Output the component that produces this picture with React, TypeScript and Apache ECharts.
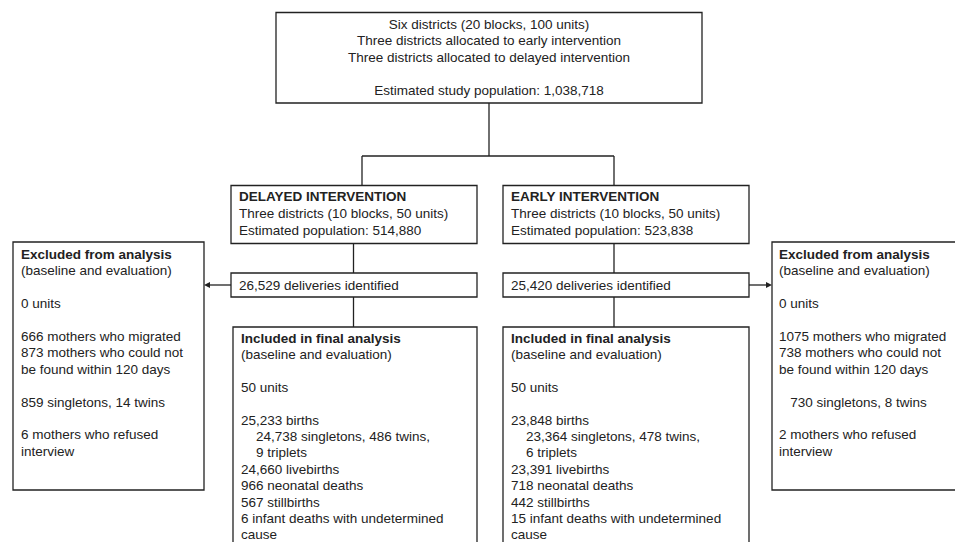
import React, { useEffect, useRef } from "react";
import * as echarts from "echarts";

// ---- content (text lines of the flow diagram) ----
const TOP_LINES = [
  "Six districts (20 blocks, 100 units)",
  "Three districts allocated to early intervention",
  "Three districts allocated to delayed intervention",
  "",
  "Estimated study population: 1,038,718",
];

const DELAYED_TITLE = "DELAYED INTERVENTION";
const DELAYED_LINES = ["Three districts (10 blocks, 50 units)", "Estimated population: 514,880"];
const EARLY_TITLE = "EARLY INTERVENTION";
const EARLY_LINES = ["Three districts (10 blocks, 50 units)", "Estimated population: 523,838"];

const DELAYED_DELIVERIES = "26,529 deliveries identified";
const EARLY_DELIVERIES = "25,420 deliveries identified";

const EXCLUDED_TITLE = "Excluded from analysis";
const EXCL_DELAYED = [
  "(baseline and evaluation)", "", "0 units", "",
  "666 mothers who migrated", "873 mothers who could not", "be found within 120 days", "",
  "859 singletons, 14 twins", "",
  "6 mothers who refused", "interview",
];
const EXCL_EARLY = [
  "(baseline and evaluation)", "", "0 units", "",
  "1075 mothers who migrated", "738 mothers who could not", "be found within 120 days", "",
  "   730 singletons, 8 twins", "",
  "2 mothers who refused", "interview",
];

const INCLUDED_TITLE = "Included in final analysis";
const INCL_DELAYED = [
  "(baseline and evaluation)", "", "50 units", "",
  "25,233 births", "    24,738 singletons, 486 twins,", "    9 triplets",
  "24,660 livebirths", "966 neonatal deaths", "567 stillbirths",
  "6 infant deaths with undetermined", "cause",
];
const INCL_EARLY = [
  "(baseline and evaluation)", "", "50 units", "",
  "23,848 births", "    23,364 singletons, 478 twins,", "    6 triplets",
  "23,391 livebirths", "718 neonatal deaths", "442 stillbirths",
  "15 infant deaths with undetermined", "cause",
];

// ---- styling ----
const FONT_FAMILY = '"Liberation Sans", Arial, Helvetica, sans-serif';
const FONT_SIZE = 13.5;
const INK = "#222";
const LW = 1.3;
const SPACE_W = 3.75;

function textLines(lines: string[], x: number, y0: number, step: number, opts: any = {}) {
  const els: any[] = [];
  lines.forEach((raw, i) => {
    if (!raw) return;
    const lead = raw.length - raw.replace(/^ +/, "").length;
    const t = raw.trim();
    const bold = opts.boldFirst && i === 0;
    els.push({
      type: "text",
      silent: true,
      x: x + lead * SPACE_W,
      y: y0 + i * step,
      style: {
        text: t,
        fill: INK,
        font: `${bold ? "bold " : ""}${FONT_SIZE}px ${FONT_FAMILY}`,
        align: opts.align || "left",
        verticalAlign: "middle",
      },
    });
  });
  return els;
}

function box(x1: number, y1: number, x2: number, y2: number) {
  return {
    type: "rect",
    silent: true,
    shape: { x: x1, y: y1, width: x2 - x1, height: y2 - y1 },
    style: { fill: "#fff", stroke: INK, lineWidth: LW },
  };
}

function line(x1: number, y1: number, x2: number, y2: number) {
  return {
    type: "line",
    silent: true,
    shape: { x1, y1, x2, y2 },
    style: { stroke: INK, lineWidth: LW },
  };
}

function arrowHead(tipX: number, y: number, dir: number) {
  const L = 6, H = 3;
  return {
    type: "polygon",
    silent: true,
    shape: { points: [[tipX, y], [tipX - dir * L, y - H], [tipX - dir * L, y + H]] },
    style: { fill: INK },
  };
}

export default function App() {
  const ref = useRef<HTMLDivElement>(null);
  useEffect(() => {
    if (!ref.current) return;
    const chart = echarts.init(ref.current, undefined, { renderer: "svg" });
    const g: any[] = [];

    // connectors
    g.push(line(489, 103, 489, 156));
    g.push(line(362, 156, 614, 156));
    g.push(line(362, 156, 362, 186));
    g.push(line(614, 156, 614, 186));
    g.push(line(353.5, 243.5, 353.5, 273));
    g.push(line(353.5, 297, 353.5, 327));
    g.push(line(614, 243.5, 614, 273));
    g.push(line(614, 297, 614, 327));
    // arrows to excluded boxes
    g.push(line(231, 285, 208, 285));
    g.push(arrowHead(204, 285, -1));
    g.push(line(749, 285, 767, 285));
    g.push(arrowHead(772, 285, 1));

    // boxes
    g.push(box(276, 12.5, 702, 103));
    g.push(box(231, 185.5, 477, 243.5));
    g.push(box(503, 185.5, 749, 243.5));
    g.push(box(231, 273, 477, 297));
    g.push(box(503, 273, 749, 297));
    g.push(box(233, 327, 477, 560));
    g.push(box(503, 327, 749, 560));
    g.push(box(13, 242, 204, 490));
    g.push(box(772, 242, 970, 490));

    // texts
    g.push(...textLines(TOP_LINES, 489, 24, 16.7, { align: "center" }));
    g.push(...textLines([DELAYED_TITLE, ...DELAYED_LINES], 239, 196.5, 16.8, { boldFirst: true }));
    g.push(...textLines([EARLY_TITLE, ...EARLY_LINES], 511, 196.5, 16.8, { boldFirst: true }));
    g.push(...textLines([DELAYED_DELIVERIES], 239, 285, 16));
    g.push(...textLines([EARLY_DELIVERIES], 511, 285, 16));
    g.push(...textLines([EXCLUDED_TITLE, ...EXCL_DELAYED], 21, 254, 16.45, { boldFirst: true }));
    g.push(...textLines([EXCLUDED_TITLE, ...EXCL_EARLY], 779, 254, 16.45, { boldFirst: true }));
    g.push(...textLines([INCLUDED_TITLE, ...INCL_DELAYED], 241, 338, 16.4, { boldFirst: true }));
    g.push(...textLines([INCLUDED_TITLE, ...INCL_EARLY], 511, 338, 16.4, { boldFirst: true }));

    chart.setOption({
      animation: false,
      backgroundColor: "#fff",
      graphic: { elements: g },
    });
    return () => chart.dispose();
  }, []);
  return (
    <div
      ref={ref}
      style={{ position: "fixed", left: 0, top: 0, width: 955, height: 542, background: "#fff" }}
    />
  );
}
